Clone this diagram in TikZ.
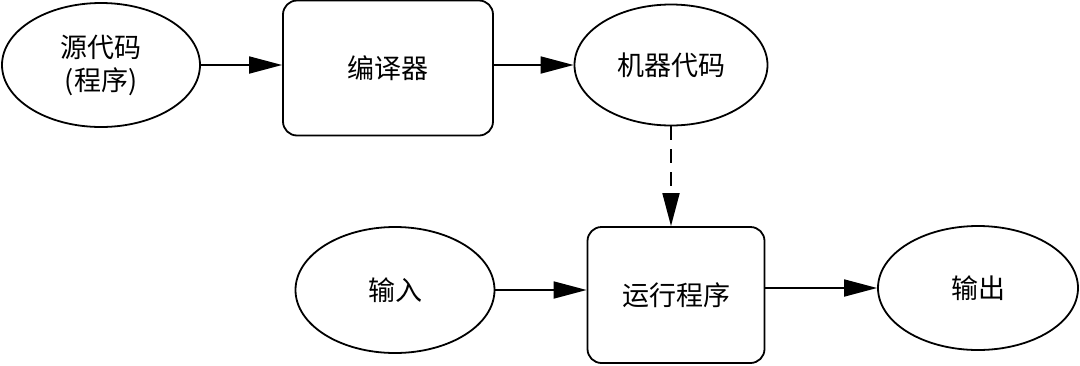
\documentclass[tikz,border=0pt]{standalone}
\usepackage{fontspec}
\setmainfont{Noto Sans CJK SC}
\usetikzlibrary{shapes.geometric,arrows.meta}
\begin{document}
\begin{tikzpicture}[x=1pt,y=-1pt,
  every node/.style={font=\fontsize{27pt}{33pt}\selectfont, line width=1.8pt, inner sep=0pt},
  oval/.style={draw, ellipse},
  roundbox/.style={draw, rounded corners=14pt},
  conn/.style={line width=1.8pt, -{Triangle[length=33pt,width=17pt]}},
  dashconn/.style={conn, dash pattern=on 14pt off 9pt}]
\useasboundingbox (0,0) rectangle (1080,365);
\node[oval, minimum width=198pt, minimum height=124pt, align=center] (src) at (101,65) {源代码\\(程序)};
\node[roundbox, minimum width=210pt, minimum height=135pt] (comp) at (388,68) {编译器};
\node[oval, minimum width=193pt, minimum height=121pt] (mc) at (671,65) {机器代码};
\node[roundbox, minimum width=177pt, minimum height=136pt] (run) at (676,295) {运行程序};
\node[oval, minimum width=199pt, minimum height=126pt] (in) at (395,290) {输入};
\node[oval, minimum width=200pt, minimum height=124pt] (out) at (978,288) {输出};
\draw[conn] (src.east) -- (src.east -| comp.west);
\draw[conn] (mc.west -| comp.east) -- (mc.west);
\draw[dashconn] (mc.south) -- (mc.south |- run.north);
\draw[conn] (in.east) -- (in.east -| run.west);
\draw[conn] (out.west -| run.east) -- (out.west);
\end{tikzpicture}
\end{document}
